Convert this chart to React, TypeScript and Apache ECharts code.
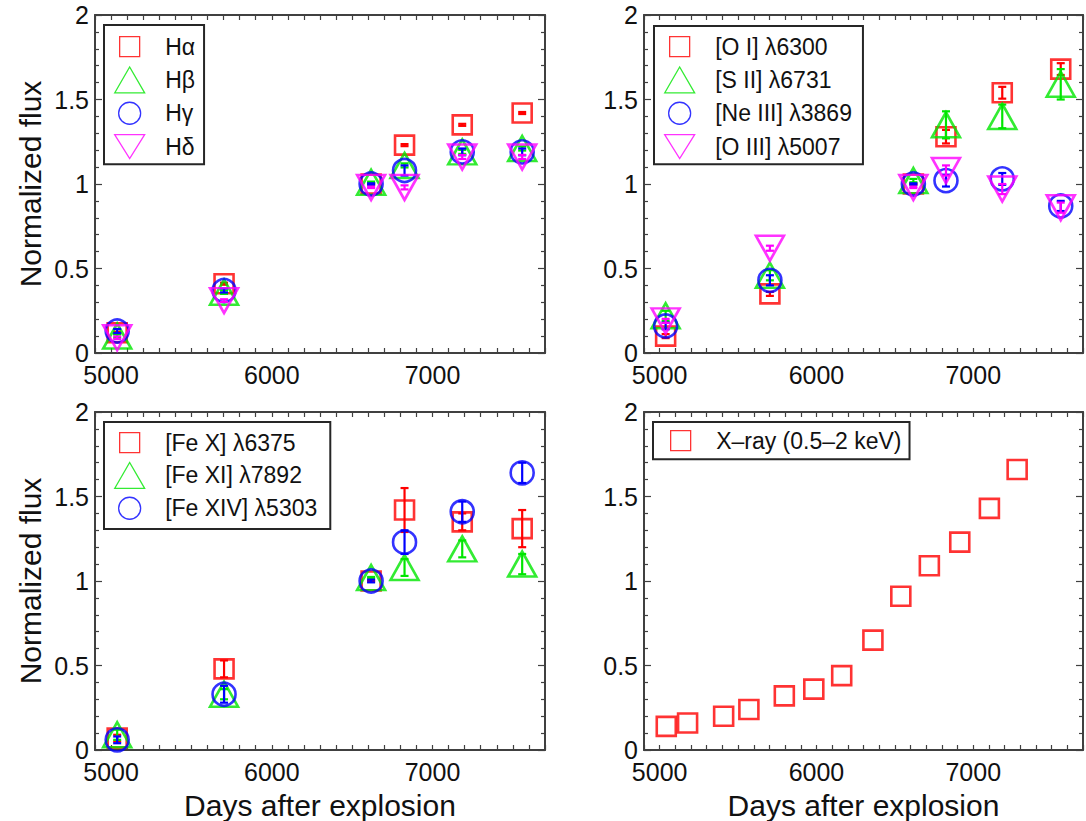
import React, { useEffect, useRef } from "react";
import * as echarts from "echarts";

const FONT = '"Liberation Sans", Arial, Helvetica, sans-serif';
const AXIS = "#404040";
const TXT = "#111111";

// ---- data ----
const epochDays = [5038, 5703, 6618, 6826, 7185, 7558];

const hAlpha = [0.12, 0.41, 1.0, 1.23, 1.35, 1.42];
const hBeta = [0.1, 0.36, 1.01, 1.11, 1.19, 1.21];
const hGamma = [0.13, 0.37, 1.0, 1.08, 1.19, 1.19];
const hDelta = [0.09, 0.31, 0.98, 0.98, 1.16, 1.16];
const hAlphaErr = [0.006, 0.006, 0.004, 0.006, 0.006, 0.006];
const hBetaErr = [0.01, 0.01, 0.004, 0.012, 0.012, 0.012];
const hGammaErr = [0.012, 0.012, 0.004, 0.03, 0.02, 0.02];
const hDeltaErr = [0.008, 0.008, 0.004, 0.012, 0.012, 0.012];

const oI = [0.1, 0.35, 1.0, 1.28, 1.54, 1.68];
const sII = [0.22, 0.46, 1.02, 1.35, 1.4, 1.59];
const neIII = [0.16, 0.43, 1.0, 1.02, 1.03, 0.87];
const oIII = [0.19, 0.62, 0.98, 1.08, 0.97, 0.86];
const oIErr = [0.012, 0.012, 0.004, 0.04, 0.035, 0.035];
const sIIErr = [0.03, 0.03, 0.01, 0.08, 0.07, 0.09];
const neIIIErr = [0.02, 0.03, 0.004, 0.035, 0.035, 0.03];
const oIIIErr = [0.012, 0.015, 0.004, 0.03, 0.03, 0.03];

const feX = [0.07, 0.48, 1.0, 1.42, 1.35, 1.31];
const feXI = [0.09, 0.33, 1.02, 1.08, 1.19, 1.1];
const feXIV = [0.06, 0.33, 1.0, 1.23, 1.41, 1.64];
const feXErr = [0.02, 0.05, 0.004, 0.13, 0.05, 0.11];
const feXIErr = [0.03, 0.03, 0.004, 0.05, 0.05, 0.06];
const feXIVErr = [0.02, 0.05, 0.008, 0.07, 0.06, 0.06];

const xrayDays = [5042, 5178, 5408, 5569, 5795, 5983, 6161, 6360, 6538, 6720, 6914, 7103, 7280];
const xrayFlux = [0.14, 0.16, 0.2, 0.24, 0.32, 0.36, 0.44, 0.65, 0.91, 1.09, 1.23, 1.43, 1.66];

const xTickLabels = [5000, 6000, 7000];
const yTickLabels = [0, 0.5, 1, 1.5, 2];

// ---- styling helpers ----
const RED = "#ff0000";
const GREEN = "#00e600";
const BLUE = "#0000ff";
const MAGENTA = "#ff00ff";

type Mark = "square" | "up" | "circle" | "down";
const plotSymbol: Record<Mark, { symbol: string; size: number | number[] }> = {
  square: { symbol: "rect", size: 19 },
  up: { symbol: "triangle", size: [28, 25] },
  circle: { symbol: "circle", size: 23 },
  down: { symbol: "path://M0,0L28,0L14,25Z", size: [28, 25] },
};
const legendIcon: Record<Mark, string> = {
  square: "path://M-3,-3M23,23M0,0L20,0L20,20L0,20Z",
  up: "path://M0,26L15,0L30,26Z",
  circle: "path://M-2,-2M24,24M0,11A11,11,0,1,0,22,11A11,11,0,1,0,0,11Z",
  down: "path://M0,-1M0,25M0,0L30,0L15,24Z",
};

type Line = { name: string; color: string; mark: Mark; days: number[]; values: number[]; errors?: number[] };

const panels: {
  grid: { left: number; top: number; width: number; height: number };
  xName: boolean;
  yName: boolean;
  legend: { left: number; top: number; padding: number[]; itemGap: number };
  lines: Line[];
}[] = [
  {
    grid: { left: 95, top: 15, width: 450, height: 338 },
    xName: false,
    yName: true,
    legend: { left: 104, top: 25, padding: [8, 9, 4, 10], itemGap: 6 },
    lines: [
      { name: "Hα", color: RED, mark: "square", days: epochDays, values: hAlpha, errors: hAlphaErr },
      { name: "Hβ", color: GREEN, mark: "up", days: epochDays, values: hBeta, errors: hBetaErr },
      { name: "Hγ", color: BLUE, mark: "circle", days: epochDays, values: hGamma, errors: hGammaErr },
      { name: "Hδ", color: MAGENTA, mark: "down", days: epochDays, values: hDelta, errors: hDeltaErr },
    ],
  },
  {
    grid: { left: 644, top: 15, width: 450, height: 338 },
    xName: false,
    yName: false,
    legend: { left: 654, top: 26, padding: [7, 11, 4, 10], itemGap: 6 },
    lines: [
      { name: "[O I] λ6300", color: RED, mark: "square", days: epochDays, values: oI, errors: oIErr },
      { name: "[S II] λ6731", color: GREEN, mark: "up", days: epochDays, values: sII, errors: sIIErr },
      { name: "[Ne III] λ3869", color: BLUE, mark: "circle", days: epochDays, values: neIII, errors: neIIIErr },
      { name: "[O III] λ5007", color: MAGENTA, mark: "down", days: epochDays, values: oIII, errors: oIIIErr },
    ],
  },
  {
    grid: { left: 95, top: 412, width: 450, height: 338 },
    xName: true,
    yName: true,
    legend: { left: 104, top: 422, padding: [7, 13, 7, 10], itemGap: 5.5 },
    lines: [
      { name: "[Fe X] λ6375", color: RED, mark: "square", days: epochDays, values: feX, errors: feXErr },
      { name: "[Fe XI] λ7892", color: GREEN, mark: "up", days: epochDays, values: feXI, errors: feXIErr },
      { name: "[Fe XIV] λ5303", color: BLUE, mark: "circle", days: epochDays, values: feXIV, errors: feXIVErr },
    ],
  },
  {
    grid: { left: 644, top: 412, width: 450, height: 338 },
    xName: true,
    yName: false,
    legend: { left: 653, top: 422, padding: [5, 8, 5, 14], itemGap: 6 },
    lines: [{ name: "X–ray (0.5–2 keV)", color: RED, mark: "square", days: xrayDays, values: xrayFlux }],
  },
];

function buildOption() {
  const grid: any[] = [];
  const xAxis: any[] = [];
  const yAxis: any[] = [];
  const legend: any[] = [];
  const series: any[] = [];

  panels.forEach((p, g) => {
    grid.push({ ...p.grid });
    const lineStyle = { color: AXIS, width: 2 };
    const tickStyle = { color: AXIS, width: 1.2 };
    // bottom x
    xAxis.push({
      type: "value",
      gridIndex: g,
      position: "bottom",
      min: 4900,
      max: 7700,
      interval: 100,
      axisLine: { show: true, onZero: false, lineStyle },
      axisTick: { show: true, inside: true, length: 5, lineStyle: tickStyle },
      axisLabel: {
        show: true,
        margin: 11,
        fontSize: 25,
        lineHeight: 22,
        fontFamily: FONT,
        color: TXT,
        formatter: (v: number) => (xTickLabels.includes(Math.round(v)) ? String(Math.round(v)) : ""),
      },
      splitLine: { show: false },
      name: p.xName ? "Days after explosion" : "",
      nameLocation: "middle",
      nameGap: 40,
      nameTextStyle: { fontSize: 30, fontFamily: FONT, color: TXT },
    });
    // top x (ticks only)
    xAxis.push({
      type: "value",
      gridIndex: g,
      position: "top",
      min: 4900,
      max: 7700,
      interval: 100,
      axisLine: { show: true, onZero: false, lineStyle },
      axisTick: { show: true, inside: true, length: 5, lineStyle: tickStyle },
      axisLabel: { show: false },
      splitLine: { show: false },
    });
    // left y
    yAxis.push({
      type: "value",
      gridIndex: g,
      position: "left",
      min: 0,
      max: 2,
      interval: 0.5,
      axisLine: { show: true, onZero: false, lineStyle },
      axisTick: { show: true, inside: true, length: 7, lineStyle: tickStyle },
      minorTick: { show: true, splitNumber: 5, length: 4, lineStyle: tickStyle },
      axisLabel: {
        show: true,
        margin: 6,
        fontSize: 25,
        lineHeight: 18,
        fontFamily: FONT,
        color: TXT,
        formatter: (v: number) => {
          const k = yTickLabels.find((t) => Math.abs(t - v) < 1e-6);
          return k === undefined ? "" : String(k);
        },
      },
      splitLine: { show: false },
      name: p.yName ? "Normalized flux" : "",
      nameLocation: "middle",
      nameGap: 50,
      nameTextStyle: { fontSize: 30, fontFamily: FONT, color: TXT },
    });
    // right y (ticks only)
    yAxis.push({
      type: "value",
      gridIndex: g,
      position: "right",
      min: 0,
      max: 2,
      interval: 0.5,
      axisLine: { show: true, onZero: false, lineStyle },
      axisTick: { show: true, inside: true, length: 7, lineStyle: tickStyle },
      minorTick: { show: true, splitNumber: 5, length: 4, lineStyle: tickStyle },
      axisLabel: { show: false },
      splitLine: { show: false },
    });

    const xi = 2 * g;
    const yi = 2 * g;
    p.lines.forEach((ln, k) => {
      const ps = plotSymbol[ln.mark];
      series.push({
        type: "scatter",
        name: ln.name,
        xAxisIndex: xi,
        yAxisIndex: yi,
        symbol: ps.symbol,
        symbolSize: ps.size,
        itemStyle: { color: "rgba(0,0,0,0)", borderColor: ln.color, borderWidth: 2.6 },
        z: 2 + k,
        data: ln.days.map((d, i) => [d, ln.values[i]]),
        emphasis: { disabled: true },
      });
      if (ln.errors) {
        const col = ln.color;
        series.push({
          type: "custom",
          name: ln.name + " error",
          xAxisIndex: xi,
          yAxisIndex: yi,
          z: 2 + k,
          silent: true,
          encode: { x: 0, y: 1 },
          data: ln.days.map((d, i) => [d, ln.values[i], ln.errors![i]]),
          renderItem: (_params: any, api: any) => {
            const x = api.value(0);
            const y = api.value(1);
            const e = api.value(2);
            const top = api.coord([x, y + e]);
            const bot = api.coord([x, y - e]);
            const hw = 4;
            const st = { stroke: col, lineWidth: 2.2 };
            return {
              type: "group",
              children: [
                { type: "line", shape: { x1: top[0], y1: top[1], x2: bot[0], y2: bot[1] }, style: st },
                { type: "line", shape: { x1: top[0] - hw, y1: top[1], x2: top[0] + hw, y2: top[1] }, style: st },
                { type: "line", shape: { x1: bot[0] - hw, y1: bot[1], x2: bot[0] + hw, y2: bot[1] }, style: st },
              ],
            };
          },
        });
      }
    });

    legend.push({
      orient: "vertical",
      left: p.legend.left,
      top: p.legend.top,
      padding: p.legend.padding,
      itemGap: p.legend.itemGap,
      itemWidth: 61,
      itemHeight: 26,
      symbolKeepAspect: true,
      selectedMode: false,
      backgroundColor: "#ffffff",
      borderColor: "#262626",
      borderWidth: 2,
      borderRadius: 0,
      itemStyle: { borderWidth: 1.3 },
      textStyle: { fontSize: 23, fontFamily: FONT, color: TXT, lineHeight: 26 },
      data: p.lines.map((ln) => ({ name: ln.name, icon: legendIcon[ln.mark] })),
    });
  });

  return {
    animation: false,
    backgroundColor: "#ffffff",
    grid,
    xAxis,
    yAxis,
    legend,
    series,
  };
}

export default function App() {
  const ref = useRef<HTMLDivElement>(null);
  useEffect(() => {
    if (!ref.current) return;
    const chart = echarts.init(ref.current, undefined, { renderer: "svg" });
    chart.setOption(buildOption() as any);
    return () => chart.dispose();
  }, []);
  return (
    <div
      ref={ref}
      style={{ position: "absolute", left: 0, top: 0, width: 1086, height: 821, background: "#fff" }}
    />
  );
}
